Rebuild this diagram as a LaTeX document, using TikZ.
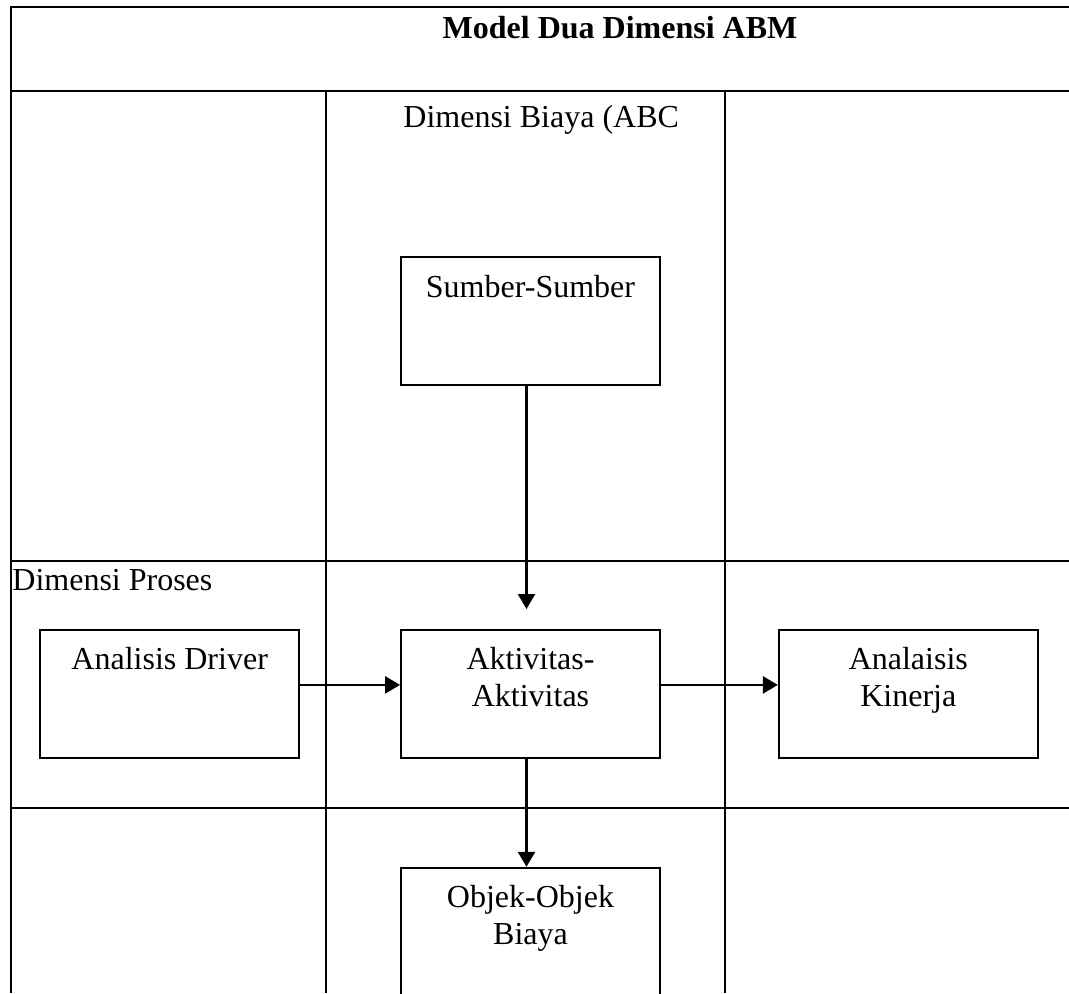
\documentclass[tikz,border=0pt]{standalone}
\usepackage{fontspec}
\setmainfont{Liberation Serif}
\usetikzlibrary{arrows.meta, positioning}
\tikzset{
  block/.style={rectangle, draw=black, line width=0.9pt, minimum width=129.5pt, inner sep=0pt,
                text height=20pt, text depth=44pt, align=center, font=\fontsize{16}{18.5}\selectfont},
  twoline/.style={text height=38.5pt, text depth=25.5pt},
  heading/.style={inner sep=0pt, anchor=base west, font=\fontsize{16}{18.5}\selectfont},
  gridline/.style={line width=1.3pt},
  arrow/.style={-{Triangle[length=7.5pt, width=8.5pt]}, line width=1.2pt}
}

\begin{document}
\begin{tikzpicture}[x=0.5pt, y=-0.5pt]
\useasboundingbox (0,0) rectangle (1069,993);

% Table frame
\draw[gridline] (1069,7) -- (11,7) -- (11,993);
\draw[gridline] (11,91) -- (1069,91);
\draw[gridline] (11,561) -- (1069,561);
\draw[gridline] (11,808) -- (1069,808);
\draw[gridline] (326,91) -- (326,993);
\draw[gridline] (725,91) -- (725,993);

\node (title) [heading, anchor=base, font=\fontsize{16}{18.5}\selectfont\bfseries] at (620,38) {Model Dua Dimensi ABM};
\node (biaya) [heading] at (403,127) {Dimensi Biaya (ABC};
\node (proses) [heading] at (12,590) {Dimensi Proses};

\node (aktivitas) [block, twoline, anchor=north] at (530.5,629) {Aktivitas-\\Aktivitas};
\node (sumber) [block, above=121.5pt of aktivitas] {Sumber-Sumber};
\node (driver) [block, left=50pt of aktivitas] {Analisis Driver};
\node (kinerja) [block, twoline, right=58.5pt of aktivitas] {Analaisis\\Kinerja};
\node (objek) [block, twoline, below=54pt of aktivitas] {Objek-Objek\\Biaya};

% Arrows
\draw [arrow, shorten >=10pt] ([xshift=-2pt]sumber.south) -- ([xshift=-2pt]aktivitas.north);
\draw [arrow] ([yshift=4.5pt]driver.east) -- ([yshift=4.5pt]aktivitas.west);
\draw [arrow] ([yshift=4.5pt]aktivitas.east) -- ([yshift=4.5pt]kinerja.west);
\draw [arrow] ([xshift=-2pt]aktivitas.south) -- ([xshift=-2pt]objek.north);
\end{tikzpicture}
\end{document}
